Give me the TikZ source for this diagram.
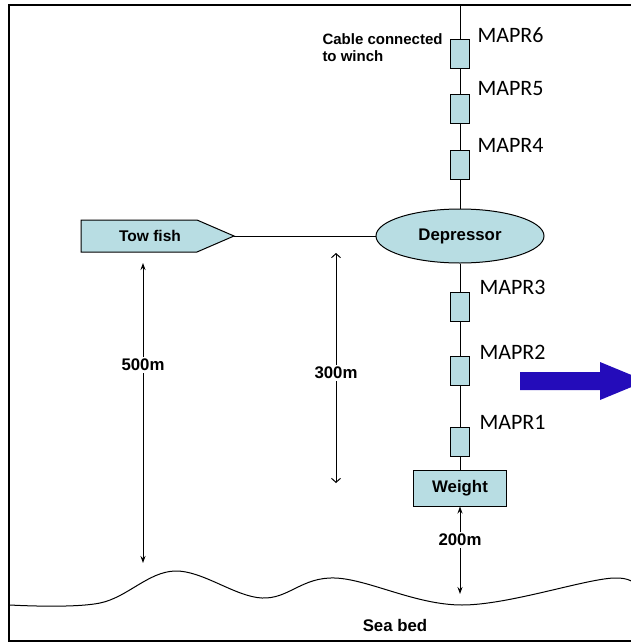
\documentclass[tikz,border=0pt]{standalone}
\usepackage{fontspec}
\setmainfont{Liberation Sans}
\newfontfamily\maprfont{Carlito}
\usetikzlibrary{shapes.geometric, arrows.meta}
\definecolor{unitblue}{RGB}{184,221,227}
\definecolor{pushblue}{RGB}{36,12,186}

\begin{document}
\begin{tikzpicture}[x=1pt, y=-1pt, line width=1pt,
    unit/.style={draw, fill=unitblue, minimum width=19pt, minimum height=29pt, inner sep=0pt},
    maprlabel/.style={anchor=west, inner sep=0pt, font=\maprfont\fontsize{22}{26}\selectfont},
    txt/.style={font=\bfseries\fontsize{16.8}{20}\selectfont},
    depth/.style={{Stealth[length=7pt,width=5pt]}-{Stealth[length=7pt,width=5pt]}},
    opendepth/.style={{Straight Barb[length=4pt,width=9pt]}-{Straight Barb[length=4pt,width=9pt]}},
    gap/.style={fill=white, inner sep=2pt, txt}]
        \useasboundingbox (0,0) rectangle (631,643);
        \clip (0,0) rectangle (631,643);
        \draw[line width=2pt] (640,5) -- (9,5) -- (9,641) -- (640,641);

        % instruments on the cable
        \node[unit] (m6) at (460,53.5) {};
        \node[unit] (m5) at (460,108.5) {};
        \node[unit] (m4) at (460,164.5) {};
        \node[unit] (m3) at (460,307) {};
        \node[unit] (m2) at (460,370.5) {};
        \node[unit] (m1) at (460,442) {};
        \node[maprlabel] (l6) at (477,35) {MAPR6};
        \node[maprlabel] (l5) at (477,89) {MAPR5};
        \node[maprlabel] (l4) at (477,145) {MAPR4};
        \node[maprlabel] (l3) at (479,287) {MAPR3};
        \node[maprlabel] (l2) at (479,352) {MAPR2};
        \node[maprlabel] (l1) at (479,422) {MAPR1};

        \node[draw, ellipse, fill=unitblue, minimum width=168pt, minimum height=54pt, inner sep=0pt, txt] (dep) at (460,236) {Depressor};
        \node[draw, fill=unitblue, minimum width=93pt, minimum height=36pt, inner sep=0pt, txt] (wt) at (460,488) {Weight};
        \node[anchor=west, align=left, inner sep=0pt, font=\bfseries\fontsize{15}{17}\selectfont] (cab) at (322,47.5) {Cable connected\\to winch};

        \coordinate (top) at (460,5);
        \draw (top) -- (m6) -- (m5) -- (m4) -- (dep) -- (m3) -- (m2) -- (m1) -- (wt);

        % tow fish
        \draw[fill=unitblue] (81,220) -- (197,220) -- (234,236) -- (197,252) -- (81,252) -- cycle;
        \coordinate (tip) at (234,236);
        \node[txt, font=\bfseries\fontsize{15.5}{18}\selectfont] (fish) at (150,236) {Tow fish};
        \draw (tip) -- (dep);

        % depths
        \coordinate (a5) at (143,263);
        \coordinate (b5) at (143,563);
        \coordinate (a3) at (336,253);
        \coordinate (b3) at (336,483);
        \coordinate (b2) at (460,594);
        \draw[depth] (a5) -- (b5) node[gap, pos=0.34] (d5) {500m};
        \draw[opendepth] (a3) -- (b3) node[gap, pos=0.52] (d3) {300m};
        \draw[depth] (wt) -- (b2) node[gap, pos=0.38] (d2) {200m};

        % sea bed
        \draw plot[smooth, tension=0.6] coordinates {(10,605) (100,603) (175,571) (262,598) (335,578) (462,605) (614,578) (640,598)};
        \node[txt] (bed) at (395,625) {Sea bed};

        \fill[pushblue] (520,372) -- (600,372) -- (600,362) -- (646,381) -- (600,400) -- (600,390) -- (520,390) -- cycle;
    \end{tikzpicture}
\end{document}
